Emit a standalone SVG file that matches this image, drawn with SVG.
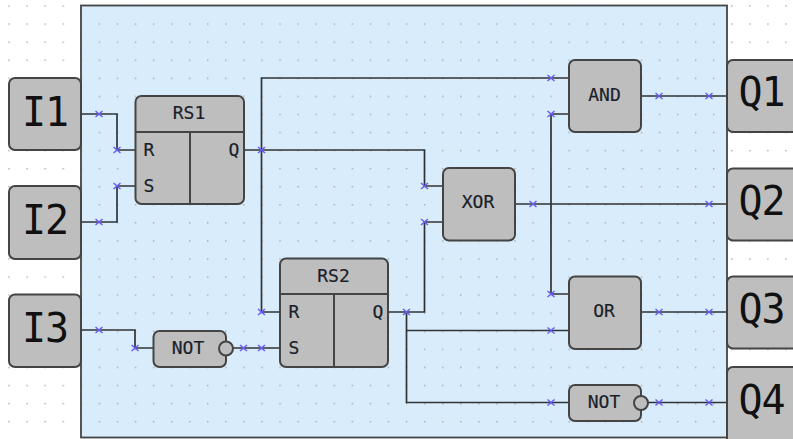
<svg xmlns="http://www.w3.org/2000/svg" xmlns:xlink="http://www.w3.org/1999/xlink" width="793" height="439" viewBox="0 0 793 439">
<style>
.n{fill:#bebebe;stroke:#444;stroke-width:2}
.d{fill:none;stroke:#444;stroke-width:2}
.w{fill:none;stroke:#2f3336;stroke-width:1.7}
.x{fill:none;stroke:#6a5cf0;stroke-width:1.5}
text{font-family:"DejaVu Sans Mono","Liberation Mono",monospace;fill:#1a1f2a;text-anchor:middle}
.b{font-size:40px;fill:#111;letter-spacing:-1px}
.m{font-size:18px;stroke:#1a1f2a;stroke-width:.2}
</style>
<defs>
<pattern id="g" x="8.3" y="5.3" width="18.07" height="18.07" patternUnits="userSpaceOnUse"><rect width="1.4" height="1.4" fill="#a8a8a0"/></pattern>
<path id="c" class="x" d="M-3.5-3 3.5 3M-3.5 3 3.5-3"/>
</defs>
<rect width="793" height="439" fill="#fff"/>
<rect width="793" height="439" fill="url(#g)"/>
<rect x="81" y="5.500" width="646" height="432" fill="#d8ecfb" stroke="#444" stroke-width="1.800"/>
<rect x="82" y="7" width="644" height="430" fill="url(#g)"/>
<g id="connectors">
<path class="w" d="M81 114H117V150H135"/>
<path class="w" d="M81 222H117V186H135"/>
<path class="w" d="M81 330H135V348H153"/>
<path class="w" d="M233 348H280"/>
<path class="w" d="M244 150H424.500V186H443"/>
<path class="w" d="M280 312H261.500V78H569"/>
<path class="w" d="M388 312H424.500V222H443"/>
<path class="w" d="M406.500 312V402.500H569M406.500 330.500H569"/>
<path class="w" d="M515 204H727M551 204V114H569M551 204V294H569"/>
<path class="w" d="M641 96H727"/>
<path class="w" d="M641 312H727"/>
<path class="w" d="M648 402.500H727"/>
<use xlink:href="#c" x="99" y="114"/><use xlink:href="#c" x="117" y="150"/>
<use xlink:href="#c" x="99" y="222"/><use xlink:href="#c" x="117" y="186"/>
<use xlink:href="#c" x="99" y="330"/><use xlink:href="#c" x="135" y="348"/>
<use xlink:href="#c" x="243.500" y="348"/><use xlink:href="#c" x="261.500" y="348"/>
<use xlink:href="#c" x="261.500" y="150"/><use xlink:href="#c" x="261.500" y="312"/>
<use xlink:href="#c" x="424.500" y="186"/><use xlink:href="#c" x="424.500" y="222"/>
<use xlink:href="#c" x="406.500" y="312"/>
<use xlink:href="#c" x="551" y="78"/><use xlink:href="#c" x="551" y="114"/>
<use xlink:href="#c" x="533" y="204"/><use xlink:href="#c" x="709" y="204"/>
<use xlink:href="#c" x="551" y="294"/><use xlink:href="#c" x="551" y="330.500"/>
<use xlink:href="#c" x="551" y="402.500"/>
<use xlink:href="#c" x="659" y="96"/><use xlink:href="#c" x="709" y="96"/>
<use xlink:href="#c" x="659" y="312"/><use xlink:href="#c" x="709" y="312"/>
<use xlink:href="#c" x="659" y="402.500"/><use xlink:href="#c" x="709" y="402.500"/>
</g>
<g id="I1"><rect class="n" x="9" y="78" width="72" height="72" rx="6"/><text class="b" x="45" y="126">I1</text></g>
<g id="I2"><rect class="n" x="9" y="186" width="72" height="73" rx="6"/><text class="b" x="45" y="234">I2</text></g>
<g id="I3"><rect class="n" x="9" y="294.500" width="72" height="72.500" rx="6"/><text class="b" x="45" y="342">I3</text></g>
<g id="RS1"><rect class="n" x="135.500" y="96" width="108.500" height="108" rx="6"/><path class="d" d="M135.500 132H244M190 132V204"/><text class="m" x="189" y="119">RS1</text><text class="m" x="149" y="155.500">R</text><text class="m" x="149" y="191.500">S</text><text class="m" x="234" y="155.500">Q</text></g>
<g id="RS2"><rect class="n" x="280" y="258.500" width="108" height="108.500" rx="6"/><path class="d" d="M280 294H388M334 294V367"/><text class="m" x="333.500" y="282">RS2</text><text class="m" x="294" y="317.500">R</text><text class="m" x="294" y="354">S</text><text class="m" x="378" y="317.500">Q</text></g>
<g id="NOT1"><rect class="n" x="153.500" y="331" width="72.500" height="36" rx="6"/><circle class="n" cx="226" cy="348.500" r="7"/><text class="m" x="188" y="354">NOT</text></g>
<g id="XOR"><rect class="n" x="443" y="168" width="72" height="72.500" rx="6"/><text class="m" x="478" y="208">XOR</text></g>
<g id="AND"><rect class="n" x="569" y="60" width="72" height="72" rx="6"/><text class="m" x="604.500" y="101">AND</text></g>
<g id="OR"><rect class="n" x="569" y="276.500" width="72" height="72.500" rx="6"/><text class="m" x="604" y="317">OR</text></g>
<g id="NOT2"><rect class="n" x="569" y="385" width="72" height="36" rx="6"/><circle class="n" cx="641" cy="403" r="7"/><text class="m" x="604" y="408">NOT</text></g>
<g id="Q1"><rect class="n" x="727" y="60" width="72" height="72" rx="6"/><text class="b" x="761.500" y="106">Q1</text></g>
<g id="Q2"><rect class="n" x="727" y="168.500" width="72" height="72" rx="6"/><text class="b" x="761.500" y="215">Q2</text></g>
<g id="Q3"><rect class="n" x="727" y="276.500" width="72" height="72" rx="6"/><text class="b" x="761.500" y="323">Q3</text></g>
<g id="Q4"><rect class="n" x="727" y="367" width="72" height="80" rx="6"/><text class="b" x="761.500" y="414">Q4</text></g>
</svg>
